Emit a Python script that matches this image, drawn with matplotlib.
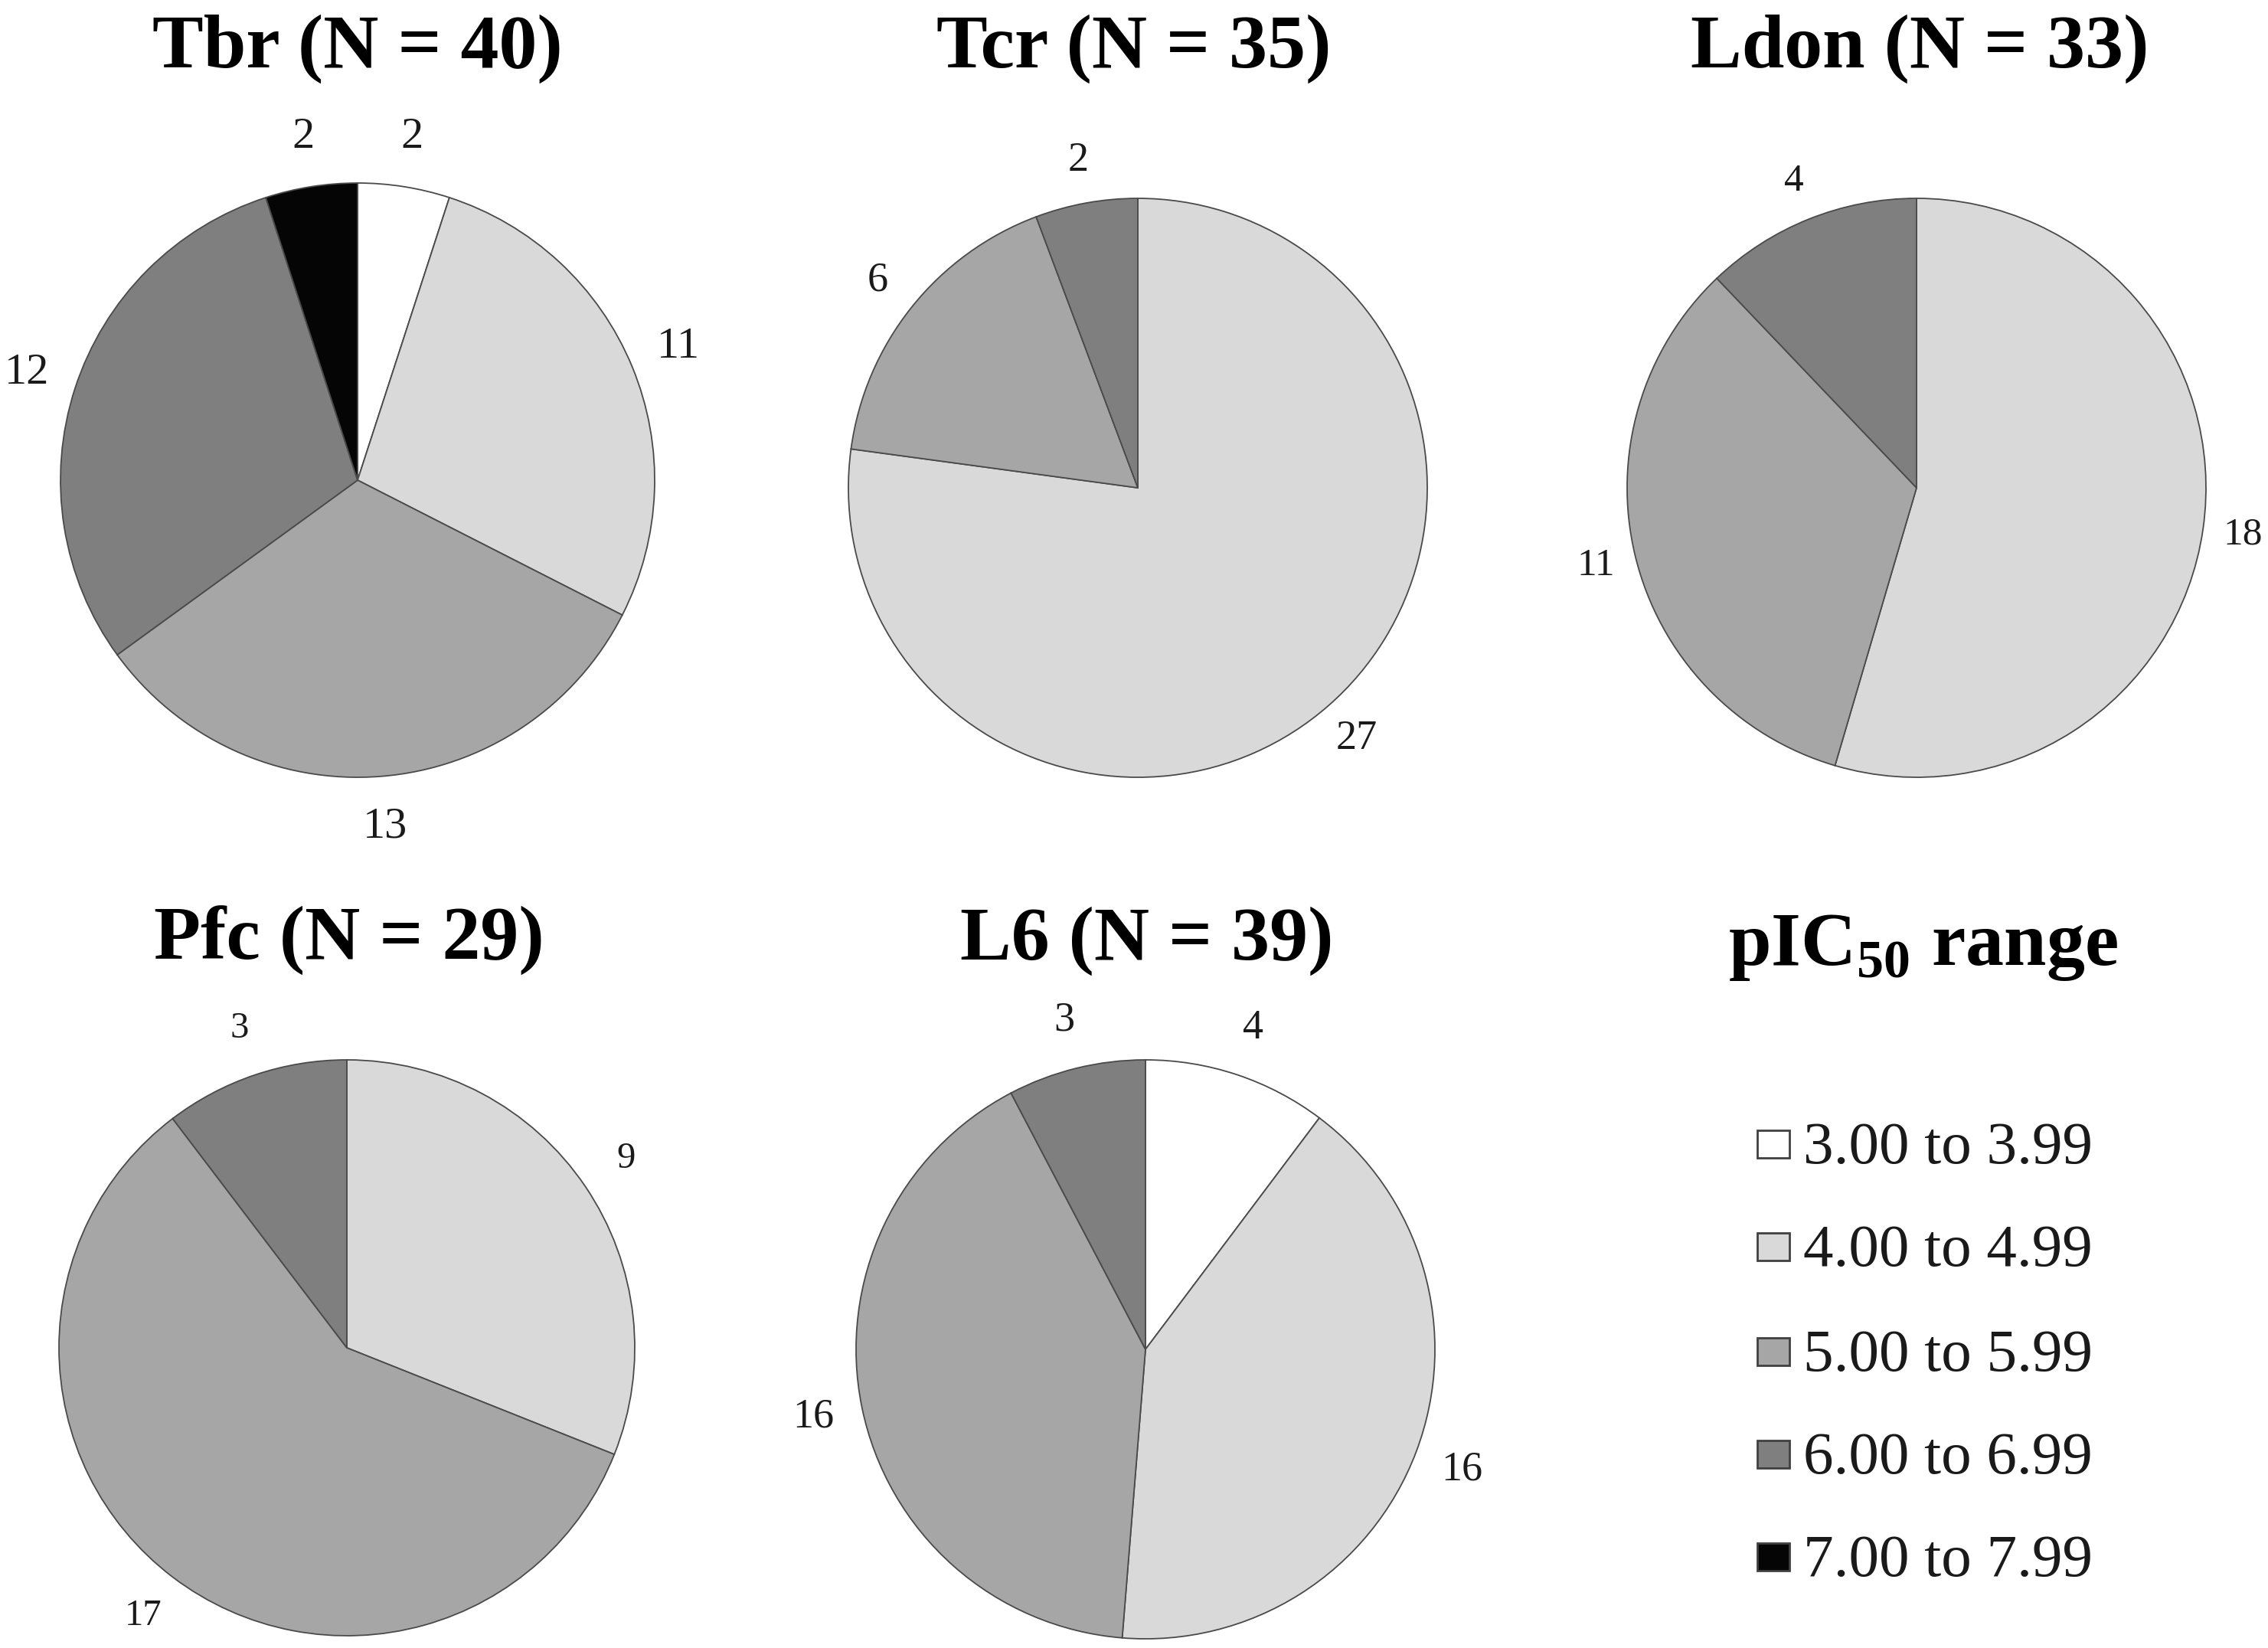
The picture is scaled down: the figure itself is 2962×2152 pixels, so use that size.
import matplotlib
matplotlib.use("Agg")
import matplotlib.pyplot as plt
from matplotlib.patches import Rectangle

plt.rcParams['font.family'] = ['Liberation Serif', 'DejaVu Serif']
plt.rcParams['mathtext.fontset'] = 'custom'
plt.rcParams['mathtext.rm'] = 'Liberation Serif'
plt.rcParams['mathtext.bf'] = 'Liberation Serif:bold'

# ---- data ----
ranges = ["3.00 to 3.99", "4.00 to 4.99", "5.00 to 5.99", "6.00 to 6.99", "7.00 to 7.99"]
colors = ["#ffffff", "#d9d9d9", "#a6a6a6", "#7f7f7f", "#050505"]

names = ["Tbr", "Tcr", "Ldon", "Pfc", "L6"]
tbr = [2, 11, 13, 12, 2]
tcr = [0, 27, 6, 2, 0]
ldon = [0, 18, 11, 4, 0]
pfc = [0, 9, 17, 3, 0]
l6 = [4, 16, 16, 3, 0]
series = [tbr, tcr, ldon, pfc, l6]

# ---- layout (pixels) ----
W, H = 2962, 2152
DPI = 100
centers = [(467, 627), (1486, 637), (2503, 637), (453, 1760), (1496, 1762)]
radii = [388, 378, 378, 376, 378]
title_x = [467, 1481, 2507, 456, 1498]
title_base = [88, 88, 88, 1253, 1253]
label_sizes = [42, 39, 37, 35, 39]
label_dist = [1.17, 1.15, 1.14, 1.17, 1.17]

fig = plt.figure(figsize=(W / DPI, H / DPI), dpi=DPI)
fig.patch.set_facecolor("white")

edge = "#4a4a4a"

for name, vals, (cx, cy), r, tx, tb, ls, ld in zip(names, series, centers, radii,
                                                    title_x, title_base, label_sizes, label_dist):
    ax = fig.add_axes([(cx - r) / W, (H - cy - r) / H, 2 * r / W, 2 * r / H])
    v = [x for x in vals if x > 0]
    c = [col for x, col in zip(vals, colors) if x > 0]
    labs = [str(x) for x in v]
    wedges, texts = ax.pie(v, colors=c, labels=labs, startangle=90, counterclock=False,
                           labeldistance=ld, radius=1.0,
                           wedgeprops=dict(edgecolor=edge, linewidth=1.3),
                           textprops=dict(fontsize=ls, color="#1a1a1a"))
    for t in texts:
        t.set_horizontalalignment("center")
        t.set_verticalalignment("center")
    ax.set_xlim(-1.0, 1.0)
    ax.set_ylim(-1.0, 1.0)
    ax.set_aspect("equal")
    ax.axis("off")
    total = sum(vals)
    fig.text(tx / W, (H - tb) / H, f"{name} (N = {total})", ha="center", va="baseline",
             fontsize=72, fontweight="bold", color="black")

# legend title
fig.text(2512 / W, (H - 1260) / H, r"pIC$_{\mathbf{50}}$ range", ha="center", va="baseline",
         fontsize=72, fontweight="bold", color="black")

# legend entries
row_y = [1494, 1628, 1765, 1899, 2033]
sq_w, sq_h = 42, 36
for lab, col, yc in zip(ranges, colors, row_y):
    fig.patches.append(Rectangle(((2295) / W, (H - yc - sq_h / 2) / H), sq_w / W, sq_h / H,
                                 transform=fig.transFigure, facecolor=col,
                                 edgecolor="#404040", linewidth=2.0))
    fig.text(2355 / W, (H - yc - 25) / H, lab, ha="left", va="baseline",
             fontsize=57, color="#1a1a1a")

fig.savefig("out.png", dpi=DPI, facecolor="white")
